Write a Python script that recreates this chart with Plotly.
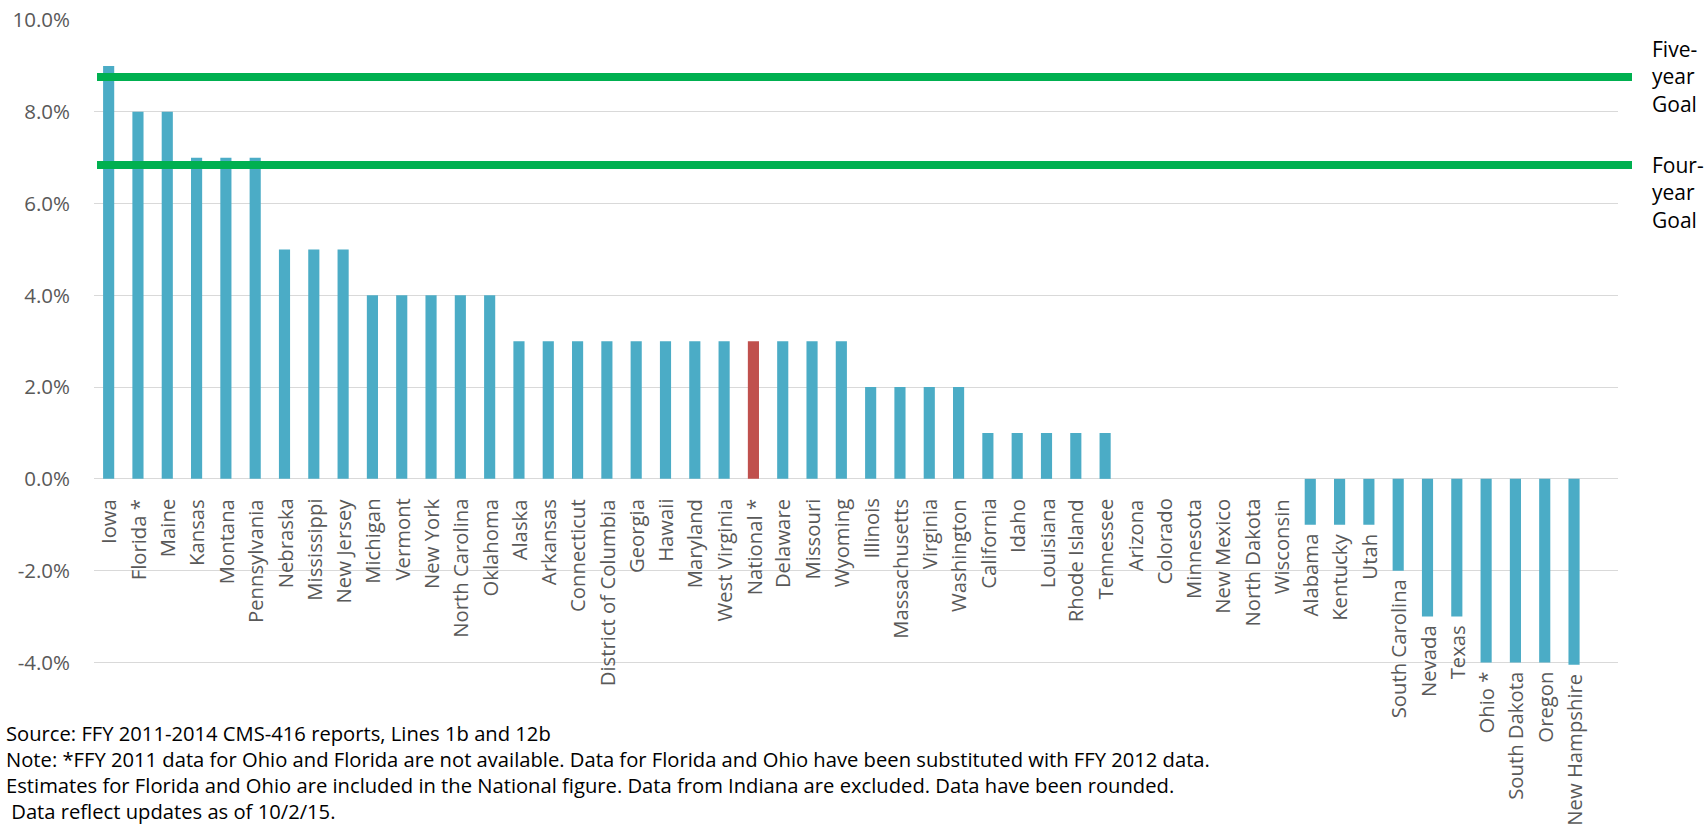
import plotly.graph_objects as go

categories = ["Iowa", "Florida *", "Maine", "Kansas", "Montana", "Pennsylvania", "Nebraska",
              "Mississippi", "New Jersey", "Michigan", "Vermont", "New York", "North Carolina",
              "Oklahoma", "Alaska", "Arkansas", "Connecticut", "District of Columbia", "Georgia",
              "Hawaii", "Maryland", "West Virginia", "National *", "Delaware", "Missouri", "Wyoming",
              "Illinois", "Massachusetts", "Virginia", "Washington", "California", "Idaho",
              "Louisiana", "Rhode Island", "Tennessee", "Arizona", "Colorado", "Minnesota",
              "New Mexico", "North Dakota", "Wisconsin", "Alabama", "Kentucky", "Utah",
              "South Carolina", "Nevada", "Texas", "Ohio *", "South Dakota", "Oregon", "New Hampshire"]
values = [9, 8, 8, 7, 7, 7, 5,
          5, 5, 4, 4, 4, 4,
          4, 3, 3, 3, 3, 3,
          3, 3, 3, 3, 3, 3, 3,
          2, 2, 2, 2, 1, 1,
          1, 1, 1, 0, 0, 0,
          0, 0, 0, -1, -1, -1,
          -2, -3, -3, -4, -4, -4, -4.05]
highlight = "National *"

goal_names = ["Five-<br>year<br>Goal", "Four-<br>year<br>Goal"]
goal_values = [8.76, 6.84]
goal_label_shift = [0, -27]

y_ticks = [-4, -2, 0, 2, 4, 6, 8, 10]
y_tick_labels = ["-4.0%", "-2.0%", "0.0%", "2.0%", "4.0%", "6.0%", "8.0%", "10.0%"]

notes = [
    "Source: FFY 2011-2014 CMS-416 reports, Lines 1b and 12b",
    "Note: *FFY 2011 data for Ohio and Florida are not available. Data for Florida and Ohio have been substituted with FFY 2012 data.",
    "Estimates for Florida and Ohio are included in the National figure. Data from Indiana are excluded. Data have been rounded.",
    "&nbsp;Data reflect updates as of 10/2/15.",
]

BLUE = "#4BACC6"
RED = "#C0504D"
GREEN = "#00B050"
GRID = "#D9D9D9"
TXT = "#595959"

colors = [RED if c == highlight else BLUE for c in categories]

fig = go.Figure()
fig.add_trace(go.Bar(x=categories, y=values, marker=dict(color=colors, line=dict(width=0)),
                     cliponaxis=False, hoverinfo="x+y"))

W, H = 1708, 825
ml, mr, mt, mb = 94, 90, 20, 158
pw = W - ml - mr
ph = H - mt - mb
YMAX = 10
YMIN = -4.1

def px_x(p):
    return (p - ml) / pw

def px_y(p):
    return (H - mb - p) / ph

shapes = []
annotations = []
for g, v, s in zip(goal_names, goal_values, goal_label_shift):
    shapes.append(dict(type="line", xref="paper", yref="y", x0=px_x(97), x1=px_x(1632),
                       y0=v, y1=v, line=dict(color=GREEN, width=8), layer="above"))
    annotations.append(dict(xref="paper", yref="y", x=px_x(1650), y=v, text=g, showarrow=False,
                            xanchor="left", yanchor="middle", align="left", yshift=s,
                            font=dict(family="Open Sans", size=21, color="#000000")))

for c, v in zip(categories, values):
    annotations.append(dict(xref="x", yref="y", x=c, y=min(0, v), text=c, showarrow=False,
                            textangle=-90, xanchor="center", yanchor="top",
                            yshift=-18 if v >= 0 else -7,
                            font=dict(family="Open Sans", size=20.3, color=TXT)))

note_y = [733, 759, 785, 811]
for t, yy in zip(notes, note_y):
    annotations.append(dict(xref="paper", yref="paper", x=px_x(5), y=px_y(yy), text=t,
                            showarrow=False, xanchor="left", yanchor="middle", align="left",
                            borderpad=0,
                            font=dict(family="Open Sans", size=20.2, color="#000000")))

fig.update_layout(
    width=W, height=H,
    margin=dict(l=ml, r=mr, t=mt, b=mb, pad=0, autoexpand=False),
    paper_bgcolor="white", plot_bgcolor="white",
    showlegend=False,
    bargap=0.62,
    xaxis=dict(range=[-0.5, 51.5], showticklabels=False, showgrid=False, zeroline=False,
               showline=False, ticks="", automargin=False),
    yaxis=dict(range=[YMIN, YMAX], tickvals=y_ticks, ticktext=y_tick_labels, showgrid=True,
               gridcolor=GRID, gridwidth=1.3, zeroline=False, showline=False, ticks="",
               ticklabelstandoff=23, automargin=False,
               tickfont=dict(family="Open Sans", size=20.5, color=TXT)),
    shapes=shapes,
    annotations=annotations,
)

fig.write_html("out.html", config={"displayModeBar": False},
               post_script="document.body.style.margin='0';")
